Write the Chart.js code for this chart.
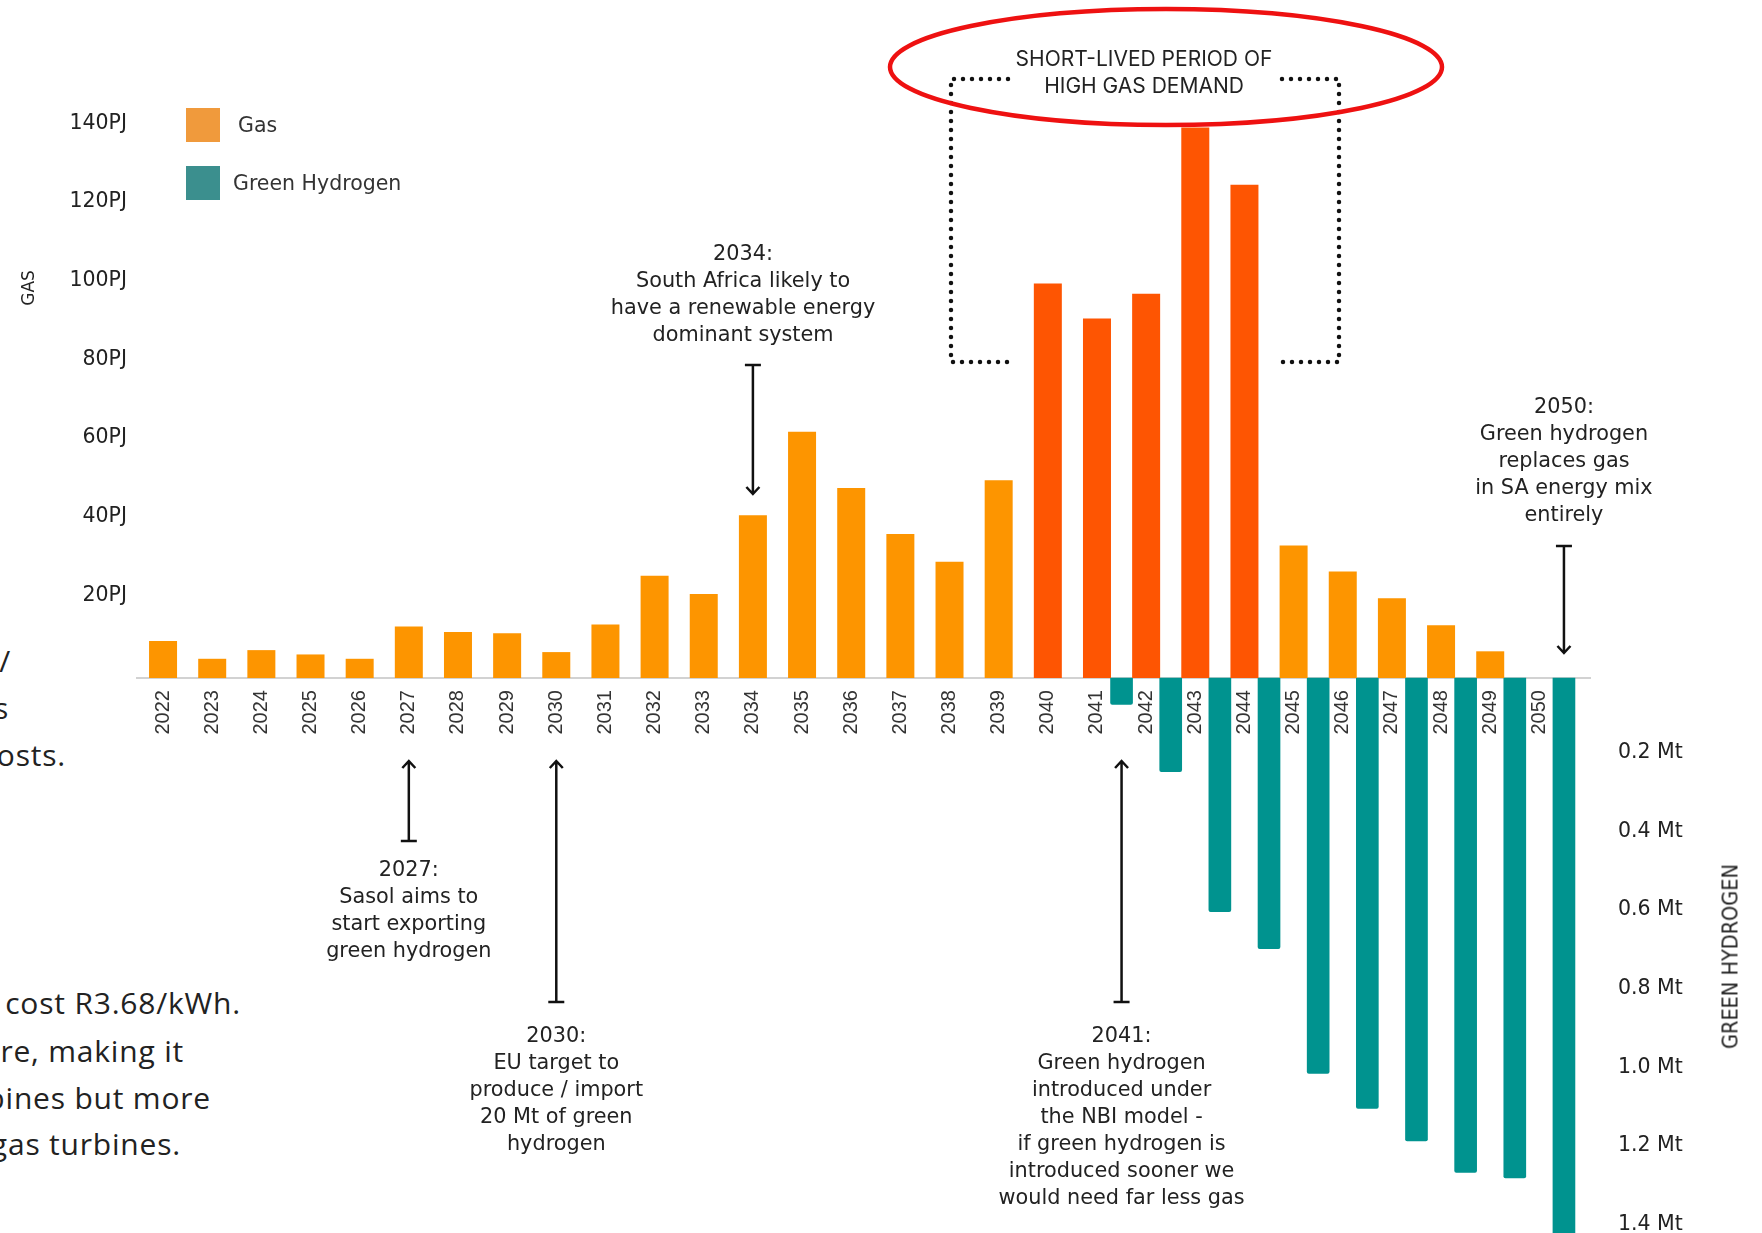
<!DOCTYPE html>
<html>
<head>
<meta charset="utf-8">
<title>Gas vs green hydrogen</title>
<script src="https://cdn.jsdelivr.net/npm/chart.js@4.4.1/dist/chart.umd.min.js"></script>
<style>
  html, body { margin: 0; padding: 0; background: #fff; }
  #wrap { position: relative; width: 1762px; height: 1233px; overflow: hidden; }
  #chartBox { position: absolute; left: 0; top: 0; width: 1762px; height: 1233px; }
  .swatch { position: absolute; width: 34px; height: 34px; }
  .legend-label { position: absolute; font-family: "DejaVu Sans", sans-serif; font-size: 20.5px; color: #333; line-height: 24px; }
  .axis-title { position: absolute; white-space: nowrap; color: #222; transform-origin: center center; }
  .side-text { position: absolute; left: 0; height: 44px; overflow: hidden; }
  .side-text span { position: absolute; right: 0; top: 0; white-space: nowrap; font-family: "Open Sans", sans-serif; font-size: 30px; letter-spacing: 0.8px; line-height: 44px; color: #222; }
</style>
</head>
<body>
<div id="wrap">
  <!-- clipped body text from the page on the left -->
  <div class="side-text" style="top:639px; width:11px;"><span>energy /</span></div>
  <div class="side-text" style="top:686px; width:9px;"><span>as</span></div>
  <div class="side-text" style="top:733px; width:66px;"><span>costs.</span></div>
  <div class="side-text" style="top:981px; width:241px;"><span>will cost R3.68/kWh.</span></div>
  <div class="side-text" style="top:1029px; width:184px;"><span>more, making it</span></div>
  <div class="side-text" style="top:1076px; width:211px;"><span>turbines but more</span></div>
  <div class="side-text" style="top:1122px; width:181px;"><span>than gas turbines.</span></div>

  <div id="chartBox"><canvas id="energyChart"></canvas></div>

  <!-- legend -->
  <div class="swatch" style="left:186px; top:108px; background:#f09a3c;"></div>
  <div class="legend-label" style="left:238px; top:113px;">Gas</div>
  <div class="swatch" style="left:186px; top:166px; background:#3b8f8e;"></div>
  <div class="legend-label" style="left:233px; top:171px;">Green Hydrogen</div>

  <!-- axis titles -->
  <div class="axis-title" style="font-family:'DejaVu Sans',sans-serif; font-size:17px; left:8px; top:278px; width:40px; text-align:center; transform:rotate(-90deg);">GAS</div>
  <div class="axis-title" style="font-family:'DejaVu Sans Condensed','DejaVu Sans',sans-serif; font-stretch:condensed; font-size:21.5px; left:1630px; top:944px; width:200px; text-align:center; transform:rotate(-90deg);">GREEN HYDROGEN</div>
</div>

<script>
// ---- data ----
const years = [2022, 2023, 2024, 2025, 2026, 2027, 2028, 2029, 2030, 2031,
  2032, 2033, 2034, 2035, 2036, 2037, 2038, 2039, 2040, 2041,
  2042, 2043, 2044, 2045, 2046, 2047, 2048, 2049, 2050];

// gas demand, PJ
const gasPJ = [9.4, 4.9, 7.1, 6.0, 4.9, 13.1, 11.7, 11.4, 6.6, 13.6,
  26.0, 21.4, 41.4, 62.6, 48.3, 36.6, 29.6, 50.3, 100.3, 91.4,
  97.7, 140.0, 125.4, 33.7, 27.1, 20.3, 13.4, 6.8, 0];

// green hydrogen, Mt (drawn downwards)
const hydrogenMt = [null, null, null, null, null, null, null, null, null, null,
  null, null, null, null, null, null, null, null, null, 0.067,
  0.238, 0.594, 0.688, 1.005, 1.094, 1.177, 1.257, 1.271, 1.46];

// years highlighted as the short-lived peak
const peakYears = [2040, 2041, 2042, 2043, 2044];

const gasTicks = [20, 40, 60, 80, 100, 120, 140];
const hydrogenTicks = [0.2, 0.4, 0.6, 0.8, 1.0, 1.2, 1.4];

// colours
const GAS_COLOR = "#fd9500";
const PEAK_COLOR = "#fe5502";
const H2_COLOR = "#00938f";

// axis ranges: 20 PJ on the left takes the same height as 0.2 Mt on the right
const PJ_PER_MT = 100;
const GAS_MIN = -141.1;
const GAS_MAX = 172.4;

// hydrogen bars sit half a year to the right of the gas bars
const H2_SHIFT = 0.5;

const gasPoints = years.map((yr, i) => ({ x: yr, y: gasPJ[i] }));
const h2Points = years.map((yr, i) => ({ x: yr + H2_SHIFT, y: hydrogenMt[i] }));
const gasColors = years.map((yr) => (peakYears.includes(yr) ? PEAK_COLOR : GAS_COLOR));

// ---- annotations (text + arrows) ----
const notes = [
  { x: 2033.8, y: 255, lines: ["2034:", "South Africa likely to", "have a renewable energy", "dominant system"] },
  { x: 2027, y: 871, lines: ["2027:", "Sasol aims to", "start exporting", "green hydrogen"] },
  { x: 2030, y: 1037, lines: ["2030:", "EU target to", "produce / import", "20 Mt of green", "hydrogen"] },
  { x: 2041.5, y: 1037, lines: ["2041:", "Green hydrogen", "introduced under", "the NBI model -",
    "if green hydrogen is", "introduced sooner we", "would need far less gas"] },
  { x: 2050.5, y: 408, lines: ["2050:", "Green hydrogen", "replaces gas", "in SA energy mix", "entirely"] },
];
const arrows = [
  { x: 2034, tail: 365, head: 494 },
  { x: 2027, tail: 841, head: 761 },
  { x: 2030, tail: 1002, head: 761 },
  { x: 2041.5, tail: 1002, head: 761 },
  { x: 2050.5, tail: 546, head: 653 },
];

function drawArrow(ctx, x, tail, head) {
  const dir = head > tail ? 1 : -1;
  ctx.beginPath();
  ctx.moveTo(x, tail);
  ctx.lineTo(x, head);
  ctx.moveTo(x - 8, tail);
  ctx.lineTo(x + 8, tail);
  ctx.moveTo(x - 6.5, head - dir * 7);
  ctx.lineTo(x, head);
  ctx.lineTo(x + 6.5, head - dir * 7);
  ctx.stroke();
}

const annotationPlugin = {
  id: "annotations",
  afterDraw(chart) {
    const ctx = chart.ctx;
    const xScale = chart.scales.x;
    ctx.save();

    // notes
    ctx.fillStyle = "#222";
    ctx.font = '20.8px "DejaVu Sans", sans-serif';
    ctx.textAlign = "center";
    ctx.textBaseline = "middle";
    notes.forEach((n) => {
      const cx = xScale.getPixelForValue(n.x);
      n.lines.forEach((line, i) => ctx.fillText(line, cx, n.y + i * 27));
    });

    // arrows
    ctx.strokeStyle = "#111";
    ctx.lineWidth = 2.5;
    arrows.forEach((a) => drawArrow(ctx, xScale.getPixelForValue(a.x), a.tail, a.head));

    // dotted brackets round the peak years
    ctx.setLineDash([0, 9]);
    ctx.lineCap = "round";
    ctx.lineWidth = 4.5;
    ctx.beginPath();
    ctx.moveTo(1008, 79);
    ctx.lineTo(951, 79);
    ctx.lineTo(951, 362);
    ctx.lineTo(1008, 362);
    ctx.moveTo(1282, 79);
    ctx.lineTo(1339, 79);
    ctx.lineTo(1339, 362);
    ctx.lineTo(1282, 362);
    ctx.stroke();
    ctx.setLineDash([]);

    // title of the bracket + red ring
    ctx.fillStyle = "#222";
    ctx.font = '21px "Inter", sans-serif';
    ctx.fillText("SHORT-LIVED PERIOD OF", 1144, 60);
    ctx.fillText("HIGH GAS DEMAND", 1144, 87);

    ctx.strokeStyle = "#ee1111";
    ctx.lineWidth = 4.5;
    ctx.beginPath();
    ctx.ellipse(1166, 67, 276, 58, 0, 0, Math.PI * 2);
    ctx.stroke();

    ctx.restore();
  },
};

const chart = new Chart(document.getElementById("energyChart"), {
  type: "bar",
  data: {
    datasets: [
      {
        label: "Gas",
        data: gasPoints,
        backgroundColor: gasColors,
        barThickness: 28,
        grouped: false,
        inflateAmount: 0,
        yAxisID: "y",
      },
      {
        label: "Green Hydrogen",
        data: h2Points,
        backgroundColor: H2_COLOR,
        barThickness: 22,
        grouped: false,
        borderRadius: 2,
        yAxisID: "y1",
      },
    ],
  },
  options: {
    responsive: true,
    maintainAspectRatio: false,
    animation: false,
    layout: { padding: 0 },
    plugins: {
      legend: { display: false },
      tooltip: { enabled: false },
    },
    scales: {
      x: {
        type: "linear",
        position: { y: 0 },
        min: 2021.47,
        max: 2051.03,
        offset: false,
        grid: { display: false, drawTicks: false },
        border: { display: true, color: "#d2d2d2", width: 2 },
        afterBuildTicks: (scale) => {
          scale.ticks = years.map((v) => ({ value: v }));
        },
        afterFit: (scale) => {
          scale.paddingLeft = 0;
          scale.paddingRight = 0;
        },
        ticks: {
          autoSkip: false,
          minRotation: 90,
          maxRotation: 90,
          padding: 12,
          color: "#333",
          font: { family: "Liberation Sans", size: 20 },
          callback: (v) => String(v),
        },
      },
      y: {
        position: "left",
        min: GAS_MIN,
        max: GAS_MAX,
        grid: { display: false, drawTicks: false },
        border: { display: false },
        afterBuildTicks: (scale) => {
          scale.ticks = gasTicks.map((v) => ({ value: v }));
        },
        afterFit: (scale) => {
          scale.width = 137;
          scale.paddingTop = 0;
          scale.paddingBottom = 0;
        },
        ticks: {
          padding: 10,
          labelOffset: -4,
          color: "#222",
          font: { family: "DejaVu Sans", size: 20.5 },
          callback: (v) => v + "PJ",
        },
      },
      y1: {
        position: "right",
        reverse: true,
        min: -GAS_MAX / PJ_PER_MT,
        max: -GAS_MIN / PJ_PER_MT,
        grid: { display: false, drawTicks: false },
        border: { display: false },
        afterBuildTicks: (scale) => {
          scale.ticks = hydrogenTicks.map((v) => ({ value: v }));
        },
        afterFit: (scale) => {
          scale.width = 172;
          scale.paddingTop = 0;
          scale.paddingBottom = 0;
        },
        ticks: {
          padding: 28,
          labelOffset: -4,
          color: "#222",
          font: { family: "DejaVu Sans", size: 20.5 },
          callback: (v) => v.toFixed(1) + " Mt",
        },
      },
    },
  },
  plugins: [annotationPlugin],
});
</script>
</body>
</html>
